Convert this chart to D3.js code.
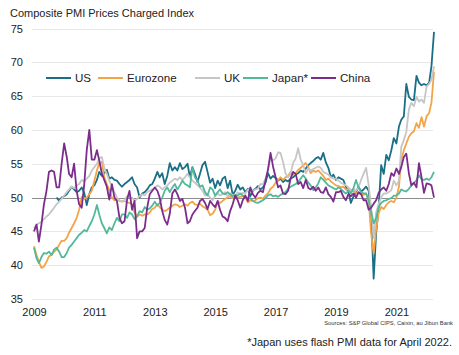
<!DOCTYPE html>
<html>
<head>
<meta charset="utf-8">
<script src="https://cdn.jsdelivr.net/npm/d3@7"></script>
<style>
  html, body { margin: 0; padding: 0; background: #fff; }
  svg { display: block; font-family: "Liberation Sans", Arial, sans-serif; }
</style>
</head>
<body>
<svg id="chart" width="459" height="355"></svg>
<script>
// ---- Data (monthly, Jan 2009 – Apr 2022) ----
const startYear = 2009, startMonth = 0, monthCount = 160;
const seriesNames = ["US", "Eurozone", "UK", "Japan*", "China"];
const seriesColors = ["#1a6e86", "#f4a447", "#c6c6c6", "#53b99b", "#7b2c8c"];
const yTicks = [35, 40, 45, 50, 55, 60, 65, 70, 75];
const xTickYears = [2009, 2011, 2013, 2015, 2017, 2019, 2021];

const usValues = [
  null,null,null,null,null,null,null,null,null, 50, 49.5, 50,
  50.2, 50.5, 51, 51.6, 51.2, 50.8, 51, 51.5, 50.7, 48.9, 50.5, 51.5,
  51.8, 52.6, 53.8, 53.2, 53.6, 54.1, 52.8, 53, 52.6, 52.5, 52, 51.6,
  52, 52.3, 52.6, 53, 52, 51.5, 50, 50.6, 50.8, 51.2, 51.8, 52,
  52.8, 53.8, 53, 53.6, 52, 53.2, 55.1, 54, 54.5, 54, 55.1, 54.2,
  54.5, 55, 53, 54.5, 53.5, 52.3, 53.5, 54.8, 55.3, 53.8, 52.2, 52.8,
  51.4, 52.5, 51.8, 52.8, 53.1, 51.4, 52.5, 50.4, 51, 51.9, 51.2, 51.5,
  50.8, 51.3, 50.2, 51, 51.3, 51.7, 51.2, 51.5, 52.2, 53.6, 52.8, 53.2,
  52.9, 52.5, 52.8, 52.3, 52.6, 52.4, 52.8, 53, 53.4, 53.6, 54, 53.8,
  54.3, 54.8, 55.1, 55.4, 55.8, 56, 55.6, 56.6, 55.2, 54.4, 53, 53.4,
  52.6, 53, 52.8, 52.6, 51.6, 50.8, 49.2, 50.2, 50.8, 51.6, 50.9, 51.2,
  51.6, 51, 47.7, 38, 44.7, 48.6, 54.8, 53.5, 56.3, 55.5, 57, 58.8,
  58, 60.5, 61.5, 62, 66.8, 64.9, 64.5, 64.4, 68, 67, 66.6, 66.8,
  66.6, 67, 69.4, 74.5
];
const eurozoneValues = [
  42.8, 41.5, 40.5, 39.6, 39.8, 40.5, 41.3, 41.5, 42, 42.3, 43, 43.6,
  43.6, 44, 44.8, 45.5, 46.2, 47, 48.2, 50.1, 49.8, 50, 50.5, 51,
  52.5, 54, 55.1, 55.3, 53, 52, 51.1, 50, 49.6, 49.8, 49.5, 49.4,
  49.5, 49.3, 49.2, 49, 47.8, 47.2, 47.5, 47.3, 47.5, 47.5, 47.8, 48.3,
  48.5, 49, 48.6, 48.2, 48, 48.2, 48.5, 48.8, 49, 48.9, 48.6, 48.8,
  49, 48.8, 49.2, 49.4, 49, 48.9, 49.1, 48.7, 48.5, 48.2, 47.4, 47.6,
  48.2, 49.4, 49.2, 49.5, 49.8, 50, 50.2, 49.9, 50.3, 50, 50.1, 50.2,
  50, 49.3, 49.6, 49.5, 49.6, 49.9, 50, 49.8, 50.3, 50.6, 51.3, 51.6,
  52.2, 52.6, 53, 52.6, 53, 53.2, 53.8, 53.4, 53.6, 54.1, 54.4, 54.8,
  55.1, 54.5, 53.6, 54, 53.8, 54, 53.6, 53.2, 52.6, 52.8, 52.4, 52.1,
  51.8, 51.7, 51.5, 51.6, 51.2, 51.2, 50.9, 51, 50.7, 50.6, 50.5, 50.4,
  50.6, 49.7, 44.7, 41.7, 45.3, 47.7, 48.6, 48.3, 48.9, 49.3, 49.5, 49.3,
  50, 51.6, 55.6, 57, 58, 59, 59.5, 59.8, 61, 60.3, 61.9, 60.5,
  62, 62.5, 64, 68.6
];
const ukValues = [
  45.5, 46, 46.2, 46.4, 46.8, 47.2, 47.5, 48, 48.5, 49, 49.4, 49.8,
  50.3, 50.8, 51.2, 51.6, 51.4, 51.8, 52, 52.6, 52.4, 52.8, 53.2, 54,
  54.5, 55, 55.8, 56, 54.4, 53.5, 52.5, 51.6, 50.8, 50, 49.6, 49.4,
  49.6, 50.2, 50, 50, 49.5, 49.8, 50.2, 50.5, 50.3, 50.8, 51, 51.2,
  51.4, 51.8, 51.6, 51.2, 51.5, 51.8, 52.2, 52.5, 52.8, 52.6, 53, 52.6,
  53, 53.5, 53, 52.5, 52.2, 51.8, 51.5, 51, 50.3, 50.5, 50, 49.6,
  50.2, 50.6, 50.3, 50.5, 50.8, 50.2, 50.6, 50.4, 50.2, 50.8, 50.5, 50.7,
  50.6, 51.2, 50.8, 51, 51.2, 51.3, 52, 52, 52.8, 54.2, 55.8, 55.5,
  55.8, 56.7, 56.6, 55.3, 53.6, 53, 53.5, 55.1, 55.8, 57.3, 55.6, 54.8,
  53.6, 54.3, 54, 54.2, 54.4, 54.6, 54.4, 53.8, 53.6, 53.4, 53, 52.8,
  52.8, 52.5, 52.2, 52, 51.8, 51.5, 51.1, 51.3, 51, 51.5, 52.6, 53.5,
  54.4, 51.8, 48.6, 44, 47.8, 49.1, 50, 50.6, 50.6, 50.8, 51.1, 52.5,
  51.8, 52.5, 57.5, 58.5, 59.7, 63, 64, 63.5, 64.9, 64.2, 64.5, 64,
  66.4, 66.8, 67.4, 69.4
];
const japanValues = [
  42.6, 41, 40.3, 41.2, 41.8, 41.7, 42, 41.5, 42.3, 42.6, 42, 41.2,
  41.2, 41.8, 42.6, 43, 43.5, 44, 44.5, 44.8, 45.2, 45, 45.8, 46.5,
  47.5, 48.9, 47.5, 46.2, 45.5, 44.7, 45.6, 45.2, 46.2, 47, 46.5, 47.5,
  47.5, 47, 47.8, 47.5, 46.8, 47.2, 48, 47.8, 48.6, 48.2, 48.4, 48.8,
  49.4, 48.8, 49.2, 50, 51, 51.5, 50.8, 51.5, 52, 51.2, 51.8, 52.5,
  52, 51.8, 51.5, 54.5, 53, 52.5, 51.6, 51.8, 50.8, 50.3, 51.5, 51.2,
  50.3, 50.8, 51.2, 50.6, 50.5, 50.8, 50.5, 50.2, 50.4, 50.3, 50.6, 50.3,
  50.1, 49.8, 49.9, 49.5, 49.3, 49.2, 49.4, 49.6, 49.9, 50.3, 50.5, 50.2,
  50.3, 50.1, 50.4, 50.6, 50.8, 51.3, 51.6, 51.8, 52, 52.3, 52.8, 53.3,
  52.8, 52.2, 51.8, 51.1, 51.5, 52.1, 53, 52.6, 52.2, 51.8, 51.6, 51.4,
  51.2, 51.5, 51.3, 50.9, 50.6, 51, 50.6, 51.4, 52.6, 51.5, 50.8, 50.6,
  50.6, 49.5, 48, 46.2, 46.9, 48.6, 49.2, 49.5, 49.6, 49.8, 49.9, 50.3,
  50.3, 50.6, 51.2, 51, 50.9, 51.3, 51.8, 52.1, 52.6, 53.3, 52.7, 52.6,
  52.8, 52.6, 53, 53.8
];
const chinaValues = [
  45, 46, 43.5, 46, 49, 51, 53.8, 54, 53.8, 51.5, 51.5, 55,
  58, 56, 53.5, 53, 55, 51, 49, 48.5, 52, 57, 60, 55.6,
  55.6, 57, 55.5, 53.6, 52.6, 51.6, 49.7, 52, 50, 49.5, 47, 46.2,
  46.5, 49.7, 51, 48.2, 49.5, 44, 45, 45, 45.5, 48.5, 50.5, 51,
  51.5, 51, 50, 48, 46.7, 46, 47.6, 50.6, 51.2, 50.5, 49.5, 49.8,
  48.5, 46.2, 46.5, 47.5, 48, 48.5, 49.5, 49.8, 49.2, 48.3, 49.5, 49,
  48.6, 49.5, 48.2, 47.2, 47, 46.5, 48, 49, 50.3, 49.6, 48.5, 49.6,
  50.3, 49.5, 51.5, 50.5, 50, 50.7, 51, 50.8, 52.5, 54.1, 56.6, 54.6,
  53, 51.5, 51.8, 50.6, 50.5, 51, 52.8, 53.8, 53.5, 52, 52.3, 51.4,
  52.6, 51.4, 51.2, 51.6, 51, 51.5, 50.8, 50.7, 51.5, 50.5, 50.1, 49.4,
  50.8, 50.8, 51, 50.1, 49.6, 50.5, 50.2, 50.6, 50, 50.8, 50.5, 49.6,
  49.6, 48.2, 48.5, 49.1, 49.6, 50.7, 51.2, 51.5, 51, 52, 53.6, 53.2,
  54.3, 53.5, 54.5, 56, 56.5, 53.6, 51.8, 52.2, 51.5, 55.1, 53, 50.7,
  52.1, 52, 51.8, 50
];
const allValues = [usValues, eurozoneValues, ukValues, japanValues, chinaValues];

// ---- Chart ----
const svg = d3.select("#chart");
const dates = d3.range(monthCount).map(i => new Date(startYear, startMonth + i, 1));

const x = d3.scaleTime()
  .domain([dates[0], dates[monthCount - 1]])
  .range([34, 434]);
const y = d3.scaleLinear().domain([35, 75]).range([299, 28.5]);

// Title
svg.append("text")
  .attr("x", 10).attr("y", 16.5)
  .attr("font-size", 11).attr("fill", "#222")
  .text("Composite PMI Prices Charged Index");

// Gridlines
svg.append("g").selectAll("line").data(yTicks).join("line")
  .attr("x1", 32).attr("x2", 433)
  .attr("y1", d => Math.round(y(d)) + 0.5).attr("y2", d => Math.round(y(d)) + 0.5)
  .attr("stroke", d => d === 50 ? "#8c8c8c" : "#e8e8e8")
  .attr("stroke-width", 1);

// Y axis labels
const yAxis = d3.axisLeft(y).tickValues(yTicks).tickSize(0).tickPadding(0);
const gy = svg.append("g").attr("transform", "translate(23,0)").call(yAxis);
gy.select(".domain").remove();
gy.selectAll("text").attr("font-size", 11).attr("fill", "#222")
  .attr("font-family", "'Liberation Sans', Arial, sans-serif");

// X axis labels
const xAxis = d3.axisBottom(x)
  .tickValues(xTickYears.map(yr => new Date(yr, 0, 1)))
  .tickFormat(d3.timeFormat("%Y"))
  .tickSize(0).tickPadding(0);
const gx = svg.append("g").attr("transform", "translate(0,308)").call(xAxis);
gx.select(".domain").remove();
gx.selectAll("text").attr("font-size", 11).attr("fill", "#222")
  .attr("font-family", "'Liberation Sans', Arial, sans-serif");

// Lines
const line = d3.line()
  .defined(d => d.v != null)
  .x(d => x(d.date))
  .y(d => y(d.v));

allValues.forEach((vals, i) => {
  const pts = vals.map((v, j) => ({ date: dates[j], v }));
  svg.append("path")
    .datum(pts)
    .attr("fill", "none")
    .attr("stroke", seriesColors[i])
    .attr("stroke-width", 1.8)
    .attr("stroke-linejoin", "round")
    .attr("d", line);
});

// Legend
const legendX = [46, 98, 195, 243, 311];
const legendY = 78;
const lg = svg.append("g");
seriesNames.forEach((name, i) => {
  lg.append("line")
    .attr("x1", legendX[i]).attr("x2", legendX[i] + 25)
    .attr("y1", legendY).attr("y2", legendY)
    .attr("stroke", seriesColors[i]).attr("stroke-width", 2);
  lg.append("text")
    .attr("x", legendX[i] + 29).attr("y", legendY + 4.2)
    .attr("font-size", 11.6).attr("fill", "#222")
    .text(name);
});

// Source & footnote
svg.append("text")
  .attr("x", 453).attr("y", 325)
  .attr("text-anchor", "end")
  .attr("font-size", 5.8).attr("fill", "#333")
  .text("Sources: S&P Global CIPS, Caixin, au Jibun Bank");
svg.append("text")
  .attr("x", 452).attr("y", 346)
  .attr("text-anchor", "end")
  .attr("font-size", 11).attr("fill", "#222")
  .text("*Japan uses flash PMI data for April 2022.");
</script>
</body>
</html>
